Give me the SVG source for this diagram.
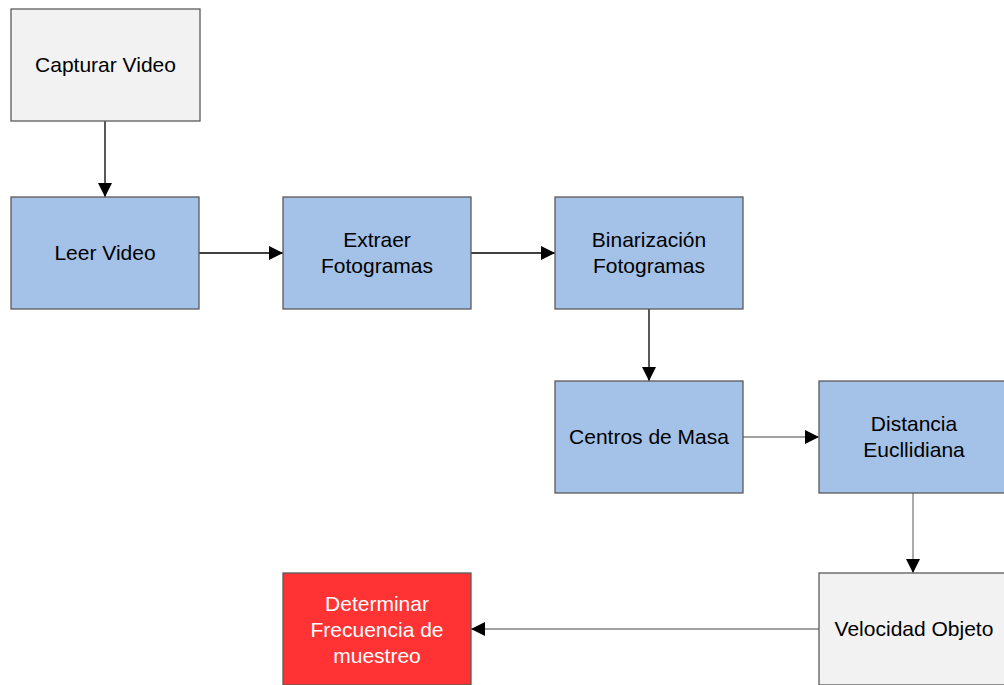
<svg xmlns="http://www.w3.org/2000/svg" width="1004" height="685" viewBox="0 0 1004 685">
  <defs>
    <marker id="arrow" viewBox="0 0 14 14" refX="14" refY="7" markerWidth="14" markerHeight="14" markerUnits="userSpaceOnUse" orient="auto">
      <path d="M0,0 L14,7 L0,14 Z" fill="#000"/>
    </marker>
    <style>
      .box { stroke: #5a5a5a; stroke-width: 1.3; }
      .light { fill: #f2f2f2; }
      .blue { fill: #a4c1e7; }
      .red { fill: #ff3333; }
      .lbl { font-family: "Liberation Sans", Arial, sans-serif; font-size: 21px; text-anchor: middle; fill: #000; }
      .lbl.white { fill: #fff; }
      .wire { fill: none; stroke-width: 1.3; marker-end: url(#arrow); }
      .dark { stroke: #000; }
      .grey { stroke: #7f7f7f; }
    </style>
  </defs>

  <g id="connectors">
    <line class="wire dark" x1="105" y1="121" x2="105" y2="197"/>
    <line class="wire dark" x1="199" y1="253" x2="283" y2="253"/>
    <line class="wire dark" x1="471" y1="253" x2="555" y2="253"/>
    <line class="wire dark" x1="649" y1="309" x2="649" y2="381"/>
    <line class="wire grey" x1="743" y1="437" x2="819" y2="437"/>
    <line class="wire grey" x1="913" y1="493" x2="913" y2="573"/>
    <line class="wire grey" x1="819" y1="629" x2="471" y2="629"/>
  </g>

  <g id="capturar-video">
    <rect class="box light" x="11" y="9" width="189" height="112"/>
    <text class="lbl" x="105.5" y="72">Capturar Video</text>
  </g>

  <g id="leer-video">
    <rect class="box blue" x="11" y="197" width="188" height="112"/>
    <text class="lbl" x="105" y="260">Leer Video</text>
  </g>

  <g id="extraer-fotogramas">
    <rect class="box blue" x="283" y="197" width="188" height="112"/>
    <text class="lbl" x="377" y="247">Extraer</text>
    <text class="lbl" x="377" y="273">Fotogramas</text>
  </g>

  <g id="binarizacion-fotogramas">
    <rect class="box blue" x="555" y="197" width="188" height="112"/>
    <text class="lbl" x="649" y="247">Binarización</text>
    <text class="lbl" x="649" y="273">Fotogramas</text>
  </g>

  <g id="centros-de-masa">
    <rect class="box blue" x="555" y="381" width="188" height="112"/>
    <text class="lbl" x="649" y="444">Centros de Masa</text>
  </g>

  <g id="distancia-eucllidiana">
    <rect class="box blue" x="819" y="381" width="188" height="112"/>
    <text class="lbl" x="914" y="431">Distancia</text>
    <text class="lbl" x="914" y="457">Eucllidiana</text>
  </g>

  <g id="velocidad-objeto">
    <rect class="box light" x="819" y="573" width="188" height="112"/>
    <text class="lbl" x="914" y="636">Velocidad Objeto</text>
  </g>

  <g id="determinar-frecuencia">
    <rect class="box red" x="283" y="573" width="188" height="112"/>
    <text class="lbl white" x="377" y="611">Determinar</text>
    <text class="lbl white" x="377" y="637">Frecuencia de</text>
    <text class="lbl white" x="377" y="663">muestreo</text>
  </g>
</svg>
